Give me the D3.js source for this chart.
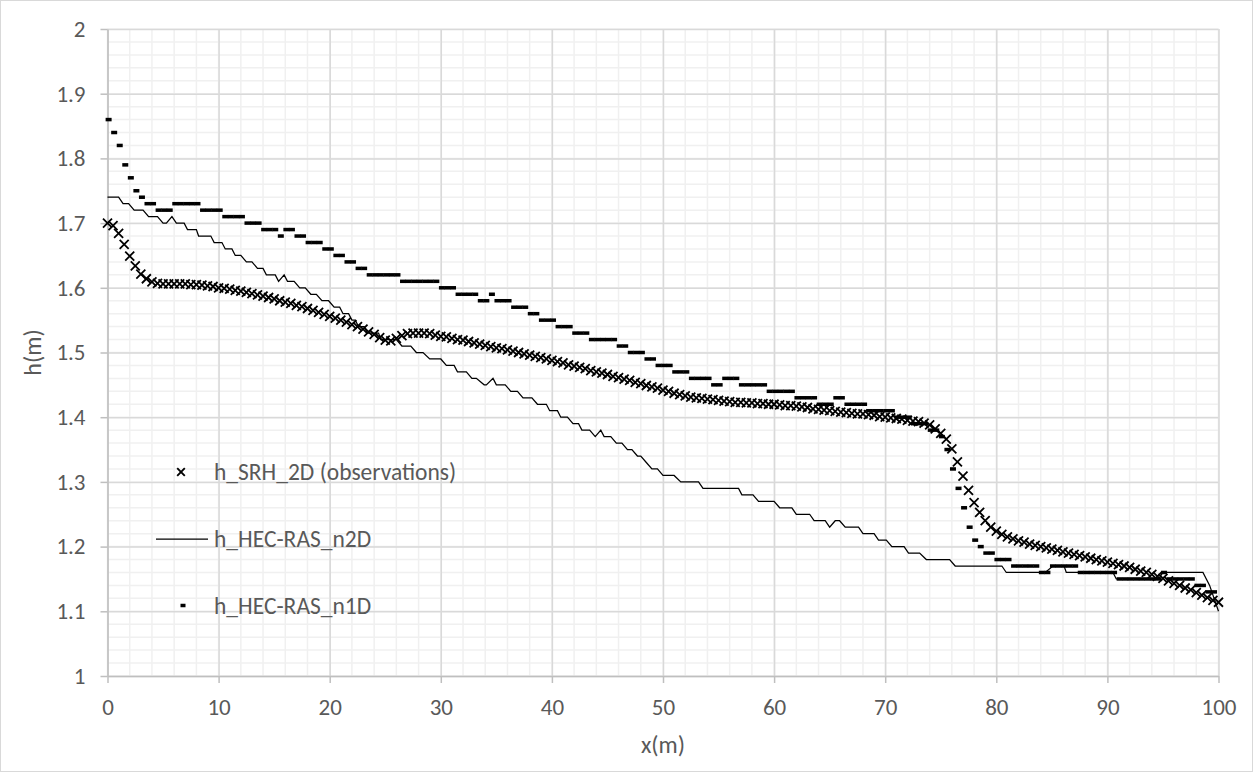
<!DOCTYPE html>
<html lang="en">
<head>
<meta charset="UTF-8">
<title>h(m) along x(m)</title>
<script src="https://d3js.org/d3.v7.min.js"></script>
<style>
    body { margin: 0; background: #fff; }
    text { font-family: Carlito, Calibri, Lato, "Open Sans", sans-serif; fill: #595959; }
</style>
</head>
<body>
<div id="chart"></div>
<script>
// tick labels
var xTicks = [0, 10, 20, 30, 40, 50, 60, 70, 80, 90, 100];
var yTicks = [1, 1.1, 1.2, 1.3, 1.4, 1.5, 1.6, 1.7, 1.8, 1.9, 2];

// h_SRH_2D (observations), one value every 0.5 m
var srhX = [0,0.5,1,1.5,2,2.5,3,3.5,4,4.5,5,5.5,6,6.5,7,7.5,8,8.5,9,9.5,
    10,10.5,11,11.5,12,12.5,13,13.5,14,14.5,15,15.5,16,16.5,17,17.5,18,18.5,19,19.5,
    20,20.5,21,21.5,22,22.5,23,23.5,24,24.5,25,25.5,26,26.5,27,27.5,28,28.5,29,29.5,
    30,30.5,31,31.5,32,32.5,33,33.5,34,34.5,35,35.5,36,36.5,37,37.5,38,38.5,39,39.5,
    40,40.5,41,41.5,42,42.5,43,43.5,44,44.5,45,45.5,46,46.5,47,47.5,48,48.5,49,49.5,
    50,50.5,51,51.5,52,52.5,53,53.5,54,54.5,55,55.5,56,56.5,57,57.5,58,58.5,59,59.5,
    60,60.5,61,61.5,62,62.5,63,63.5,64,64.5,65,65.5,66,66.5,67,67.5,68,68.5,69,69.5,
    70,70.5,71,71.5,72,72.5,73,73.5,74,74.5,75,75.5,76,76.5,77,77.5,78,78.5,79,79.5,
    80,80.5,81,81.5,82,82.5,83,83.5,84,84.5,85,85.5,86,86.5,87,87.5,88,88.5,89,89.5,
    90,90.5,91,91.5,92,92.5,93,93.5,94,94.5,95,95.5,96,96.5,97,97.5,98,98.5,99,99.5,100];
var srhH = [1.700,1.696,1.684,1.667,1.649,1.634,1.621,1.614,1.609,1.607,
    1.606,1.606,1.606,1.606,1.606,1.605,1.605,1.604,1.603,1.602,
    1.600,1.599,1.598,1.596,1.595,1.593,1.591,1.589,1.587,1.585,
    1.583,1.580,1.578,1.576,1.573,1.571,1.568,1.565,1.562,1.559,
    1.556,1.553,1.550,1.547,1.543,1.540,1.536,1.532,1.528,1.523,
    1.519,1.518,1.522,1.526,1.529,1.530,1.530,1.530,1.529,1.527,
    1.525,1.524,1.522,1.520,1.519,1.517,1.515,1.513,1.511,1.509,
    1.507,1.506,1.504,1.502,1.500,1.498,1.496,1.494,1.492,1.490,
    1.488,1.486,1.484,1.481,1.479,1.477,1.475,1.472,1.470,1.468,
    1.466,1.463,1.461,1.459,1.457,1.454,1.452,1.449,1.447,1.445,
    1.442,1.440,1.437,1.435,1.433,1.431,1.430,1.429,1.428,1.427,
    1.426,1.425,1.424,1.423,1.423,1.422,1.422,1.421,1.421,1.420,
    1.420,1.419,1.418,1.418,1.417,1.416,1.415,1.413,1.412,1.411,
    1.410,1.409,1.408,1.407,1.406,1.405,1.405,1.404,1.403,1.401,
    1.400,1.399,1.398,1.397,1.395,1.394,1.393,1.391,1.388,1.382,
    1.375,1.366,1.351,1.331,1.309,1.287,1.268,1.253,1.240,1.230,
    1.224,1.219,1.215,1.212,1.209,1.207,1.204,1.202,1.200,1.198,
    1.196,1.194,1.192,1.190,1.188,1.186,1.184,1.182,1.180,1.178,
    1.176,1.174,1.172,1.170,1.168,1.165,1.162,1.160,1.157,1.154,
    1.151,1.147,1.143,1.140,1.136,1.133,1.129,1.125,1.121,1.117,1.114];

// h_HEC-RAS_n2D, corners of the stepped line
var n2dX = [0,1.0,1.4,1.9,2.4,3.2,3.7,4.5,5.0,5.3,5.8,6.2,6.9,7.2,8.0,8.2,9.3,9.6,10.3,
    10.6,11.2,11.5,12.0,12.5,13.0,13.5,14.0,14.3,15.1,15.4,15.9,16.2,16.8,17.3,17.8,
    18.3,18.8,19.3,19.9,20.4,20.9,21.2,21.7,22.0,22.3,22.6,23.1,23.4,24.4,24.6,26.0,
    26.5,27.3,27.8,28.4,29.0,30.0,30.5,31.2,31.5,32.3,32.8,33.2,33.9,34.1,34.7,35.0,
    35.8,36.3,36.9,37.4,38.2,38.7,39.5,39.8,40.5,40.8,41.4,41.9,42.4,42.7,43.4,43.9,
    44.4,44.7,45.3,45.8,46.3,46.8,47.2,47.7,48.0,48.5,49.0,49.5,50.0,51.0,51.6,53.2,
    53.6,56.8,57.1,58.1,58.6,60.0,60.5,61.6,62.0,63.2,63.6,64.6,65.0,65.5,65.9,66.4,
    67.6,68.0,69.0,69.4,70.1,70.6,71.7,72.1,73.1,73.7,75.8,76.3,80.5,80.9,84.4,85.1,
    86.1,86.3,90.5,90.8,94.6,95.0,98.6,99.2,100];
var n2dH = [1.74,1.74,1.73,1.73,1.72,1.72,1.71,1.71,1.70,1.70,1.71,1.70,1.70,1.69,1.69,1.68,1.68,1.67,1.67,
    1.66,1.66,1.65,1.65,1.64,1.64,1.63,1.63,1.62,1.62,1.61,1.62,1.61,1.61,1.60,1.60,
    1.59,1.59,1.58,1.58,1.57,1.57,1.56,1.56,1.55,1.55,1.54,1.54,1.53,1.53,1.52,1.52,
    1.51,1.51,1.50,1.50,1.49,1.49,1.48,1.48,1.47,1.47,1.46,1.46,1.45,1.45,1.46,1.45,
    1.45,1.44,1.44,1.43,1.43,1.42,1.42,1.41,1.41,1.40,1.40,1.39,1.39,1.38,1.38,1.37,
    1.38,1.37,1.37,1.36,1.36,1.35,1.35,1.34,1.34,1.33,1.32,1.32,1.31,1.31,1.30,1.30,
    1.29,1.29,1.28,1.28,1.27,1.27,1.26,1.26,1.25,1.25,1.24,1.24,1.23,1.24,1.24,1.23,
    1.23,1.22,1.22,1.21,1.21,1.20,1.20,1.19,1.19,1.18,1.18,1.17,1.17,1.16,1.16,1.17,
    1.17,1.16,1.16,1.15,1.15,1.16,1.16,1.14,1.10];

// h_HEC-RAS_n1D, one dash every 0.5 m starting at 0.1 m
var n1dX = [0.1,0.6,1.1,1.6,2.1,2.6,3.1,3.6,4.1,4.6,5.1,5.6,6.1,6.6,7.1,7.6,8.1,8.6,9.1,9.6,
    10.1,10.6,11.1,11.6,12.1,12.6,13.1,13.6,14.1,14.6,15.1,15.6,16.1,16.6,17.1,17.6,18.1,18.6,19.1,19.6,
    20.1,20.6,21.1,21.6,22.1,22.6,23.1,23.6,24.1,24.6,25.1,25.6,26.1,26.6,27.1,27.6,28.1,28.6,29.1,29.6,
    30.1,30.6,31.1,31.6,32.1,32.6,33.1,33.6,34.1,34.6,35.1,35.6,36.1,36.6,37.1,37.6,38.1,38.6,39.1,39.6,
    40.1,40.6,41.1,41.6,42.1,42.6,43.1,43.6,44.1,44.6,45.1,45.6,46.1,46.6,47.1,47.6,48.1,48.6,49.1,49.6,
    50.1,50.6,51.1,51.6,52.1,52.6,53.1,53.6,54.1,54.6,55.1,55.6,56.1,56.6,57.1,57.6,58.1,58.6,59.1,59.6,
    60.1,60.6,61.1,61.6,62.1,62.6,63.1,63.6,64.1,64.6,65.1,65.6,66.1,66.6,67.1,67.6,68.1,68.6,69.1,69.6,
    70.1,70.6,71.1,71.6,72.1,72.6,73.1,73.6,74.1,74.6,75.1,75.6,76.1,76.6,77.1,77.6,78.1,78.6,79.1,79.6,
    80.1,80.6,81.1,81.6,82.1,82.6,83.1,83.6,84.1,84.6,85.1,85.6,86.1,86.6,87.1,87.6,88.1,88.6,89.1,89.6,
    90.1,90.6,91.1,91.6,92.1,92.6,93.1,93.6,94.1,94.6,95.1,95.6,96.1,96.6,97.1,97.6,98.1,98.6,99.1,99.6];
var n1dH = [1.86,1.84,1.82,1.79,1.77,1.75,1.74,1.73,1.73,1.72,1.72,1.72,1.73,1.73,1.73,1.73,1.73,1.72,1.72,1.72,
    1.72,1.71,1.71,1.71,1.71,1.70,1.70,1.70,1.69,1.69,1.69,1.68,1.69,1.69,1.68,1.68,1.67,1.67,1.67,1.66,
    1.66,1.65,1.65,1.64,1.64,1.63,1.63,1.62,1.62,1.62,1.62,1.62,1.62,1.61,1.61,1.61,1.61,1.61,1.61,1.61,
    1.60,1.60,1.60,1.59,1.59,1.59,1.59,1.58,1.58,1.59,1.58,1.58,1.58,1.57,1.57,1.57,1.56,1.56,1.55,1.55,
    1.55,1.54,1.54,1.54,1.53,1.53,1.53,1.52,1.52,1.52,1.52,1.52,1.51,1.51,1.50,1.50,1.50,1.49,1.49,1.48,
    1.48,1.48,1.47,1.47,1.47,1.46,1.46,1.46,1.46,1.45,1.45,1.46,1.46,1.46,1.45,1.45,1.45,1.45,1.45,1.44,
    1.44,1.44,1.44,1.44,1.43,1.43,1.43,1.43,1.42,1.42,1.42,1.43,1.43,1.42,1.42,1.42,1.42,1.41,1.41,1.41,
    1.41,1.41,1.40,1.40,1.40,1.39,1.39,1.39,1.38,1.38,1.37,1.35,1.32,1.29,1.26,1.23,1.21,1.20,1.19,1.19,
    1.18,1.18,1.18,1.17,1.17,1.17,1.17,1.17,1.16,1.16,1.17,1.17,1.17,1.17,1.17,1.16,1.16,1.16,1.16,1.16,
    1.16,1.16,1.15,1.15,1.15,1.15,1.15,1.15,1.15,1.15,1.16,1.15,1.15,1.15,1.15,1.15,1.14,1.14,1.13,1.13];

var seriesNames = ["h_SRH_2D (observations)", "h_HEC-RAS_n2D", "h_HEC-RAS_n1D"];

var W = 1253, H = 772;
var margin = { top: 29, right: 34.5, bottom: 96, left: 107.5 };

var svg = d3.select("#chart").append("svg")
    .attr("width", W)
    .attr("height", H);

// chart area border
svg.append("rect")
    .attr("x", 0.5).attr("y", 0.5)
    .attr("width", W - 1).attr("height", H - 1)
    .attr("fill", "#fff").attr("stroke", "#d9d9d9").attr("stroke-width", 1);

var x = d3.scaleLinear().domain([0, 100]).range([margin.left, W - margin.right]);
var y = d3.scaleLinear().domain([1, 2]).range([H - margin.bottom, margin.top]);

// minor grid (every 2 m, every 0.02 m)
var grid = svg.append("g");
grid.selectAll(".vminor")
    .data(d3.range(0, 100.001, 2))
    .enter().append("line")
    .attr("x1", d => x(d)).attr("x2", d => x(d))
    .attr("y1", y(1)).attr("y2", y(2))
    .attr("stroke", "#f0f0f0").attr("stroke-width", 1.5);
grid.selectAll(".hminor")
    .data(d3.range(1, 2.0001, 0.02))
    .enter().append("line")
    .attr("x1", x(0)).attr("x2", x(100))
    .attr("y1", d => y(d)).attr("y2", d => y(d))
    .attr("stroke", "#f0f0f0").attr("stroke-width", 1.5);

// major grid
svg.append("g")
    .attr("transform", "translate(0," + y(1) + ")")
    .call(d3.axisBottom(x).tickValues(xTicks).tickSize(-(y(1) - y(2))).tickFormat(""))
    .call(g => g.select(".domain").remove())
    .call(g => g.selectAll("line").attr("stroke", "#d9d9d9").attr("stroke-width", 1.5));
svg.append("g")
    .attr("transform", "translate(" + x(0) + ",0)")
    .call(d3.axisLeft(y).tickValues(yTicks).tickSize(-(x(100) - x(0))).tickFormat(""))
    .call(g => g.select(".domain").remove())
    .call(g => g.selectAll("line").attr("stroke", "#d9d9d9").attr("stroke-width", 1.5));

// axes
var xAxis = svg.append("g")
    .attr("transform", "translate(0," + y(1) + ")")
    .call(d3.axisBottom(x).tickValues(xTicks).tickSize(7).tickPadding(16).tickSizeOuter(0));
var yAxis = svg.append("g")
    .attr("transform", "translate(" + x(0) + ",0)")
    .call(d3.axisLeft(y).tickValues(yTicks).tickSize(7).tickPadding(15).tickSizeOuter(0).tickFormat(d3.format("")));
[xAxis, yAxis].forEach(function (g) {
    g.select(".domain").attr("stroke", "#bfbfbf").attr("stroke-width", 1.5);
    g.selectAll(".tick line").attr("stroke", "#bfbfbf").attr("stroke-width", 1.5);
    g.selectAll(".tick text").attr("fill", "#595959").style("font-size", "23px")
        .style("font-family", "Carlito, Calibri, Lato, 'Open Sans', sans-serif");
});

// axis titles
svg.append("text")
    .attr("x", (x(0) + x(100)) / 2)
    .attr("y", 753)
    .attr("text-anchor", "middle")
    .style("font-size", "24px")
    .text("x(m)");
svg.append("text")
    .attr("transform", "translate(41," + (y(1) + y(2)) / 2 + ") rotate(-90)")
    .attr("text-anchor", "middle")
    .style("font-size", "24px")
    .text("h(m)");

var plot = svg.append("g");

// n2D line
var n2d = n2dX.map((d, i) => [d, n2dH[i]]);
plot.append("path")
    .datum(n2d)
    .attr("fill", "none")
    .attr("stroke", "#000")
    .attr("stroke-width", 1.25)
    .attr("d", d3.line().x(d => x(d[0])).y(d => y(d[1])));

// n1D dashes
plot.selectAll(".n1d")
    .data(n1dX.map((d, i) => [d, n1dH[i]]))
    .enter().append("rect")
    .attr("x", d => x(d[0]) - 3)
    .attr("y", d => y(d[1]) - 1.75)
    .attr("width", 6)
    .attr("height", 3.5)
    .attr("fill", "#000");

// SRH crosses
var cross = "M-4.5,-4.5L4.5,4.5M-4.5,4.5L4.5,-4.5";
plot.selectAll(".srh")
    .data(srhX.map((d, i) => [d, srhH[i]]))
    .enter().append("path")
    .attr("transform", d => "translate(" + x(d[0]) + "," + y(d[1]) + ")")
    .attr("d", cross)
    .attr("fill", "none")
    .attr("stroke", "#000")
    .attr("stroke-width", 1.8);

// legend
var legend = svg.append("g");
var legendY = [472, 539, 605.5];
legend.append("path")
    .attr("transform", "translate(181," + legendY[0] + ")")
    .attr("d", "M-3.8,-3.8L3.8,3.8M-3.8,3.8L3.8,-3.8")
    .attr("stroke", "#000").attr("stroke-width", 1.9);
legend.append("line")
    .attr("x1", 156).attr("x2", 208)
    .attr("y1", legendY[1]).attr("y2", legendY[1])
    .attr("stroke", "#000").attr("stroke-width", 1.25);
legend.append("rect")
    .attr("x", 180.5).attr("y", legendY[2] - 1.75)
    .attr("width", 5).attr("height", 3.5).attr("fill", "#000");
legend.selectAll(".lt")
    .data(seriesNames)
    .enter().append("text")
    .attr("x", 214)
    .attr("y", (d, i) => legendY[i] + 8)
    .style("font-size", "23.5px")
    .text(d => d);
</script>
</body>
</html>
